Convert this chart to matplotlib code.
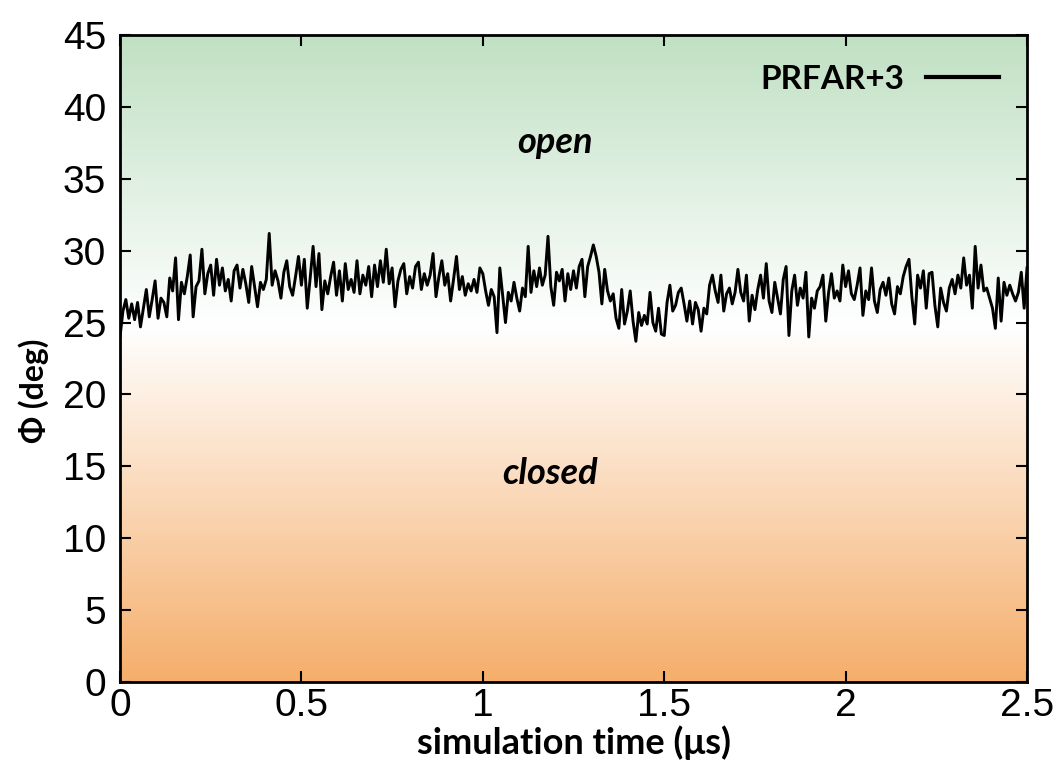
import numpy as np
import matplotlib
matplotlib.use('Agg')
import matplotlib.pyplot as plt
from matplotlib.colors import LinearSegmentedColormap

# phi angle (deg), one array per 0.5 us window
phi_0_05 = [24.0, 25.8, 26.6, 25.3, 26.3, 25.2, 26.4, 24.7, 26.0, 27.3, 25.4, 26.6,
            27.9, 25.3, 26.7, 26.4, 25.4, 28.1, 27.2, 29.5, 25.2, 27.8, 27.0, 28.2,
            29.7, 25.4, 27.5, 27.9, 30.1, 27.0, 28.4, 29.0, 26.9, 29.4, 27.6, 28.8,
            27.2, 28.0, 26.5, 28.6, 29.0, 27.4, 28.7, 27.7, 26.4, 28.9, 27.5, 26.1,
            27.8, 27.3, 28.0, 31.2, 27.6, 28.6, 27.9, 26.7, 28.5, 29.3, 27.5, 26.9,
            28.2, 29.6]
phi_05_10 = [27.6, 29.4, 26.0, 28.1, 30.3, 27.5, 29.8, 25.9, 27.9, 27.0, 28.2, 29.2,
             26.9, 28.6, 26.5, 29.1, 27.3, 28.0, 27.1, 29.3, 27.0, 28.3, 27.6, 28.9,
             26.8, 29.0, 27.5, 29.3, 27.8, 30.1, 27.7, 28.8, 26.1, 27.9, 28.7, 29.1,
             27.0, 28.2, 27.4, 28.9, 29.2, 27.3, 28.4, 27.6, 28.3, 29.8, 26.8, 28.2,
             29.3, 27.6, 28.4, 26.5, 28.0, 29.6, 27.3, 28.2, 26.9, 27.7, 27.2, 28.0,
             27.1, 28.8]
phi_10_15 = [28.4, 27.2, 26.2, 27.3, 26.8, 24.3, 28.8, 26.9, 25.0, 27.1, 26.5, 27.8,
             26.7, 25.8, 27.4, 26.8, 30.3, 27.1, 28.6, 27.5, 28.8, 27.6, 28.3, 31.0,
             27.5, 26.2, 28.5, 27.9, 28.7, 26.5, 28.4, 27.3, 28.6, 27.4, 28.9, 29.4,
             26.8, 28.9, 29.6, 30.4, 29.6, 28.5, 26.3, 28.7, 27.2, 26.5, 27.0, 25.3,
             24.6, 27.3, 24.9, 25.8, 27.2, 25.1, 23.7, 25.7, 24.8, 25.5, 24.9, 27.1,
             25.0, 24.4, 26.0, 24.2]
phi_15_20 = [24.1, 26.4, 27.6, 25.8, 26.2, 27.1, 27.4, 26.3, 25.1, 26.5, 24.9, 26.4,
             25.9, 24.4, 26.0, 25.6, 27.6, 28.3, 27.2, 26.4, 28.3, 25.8, 27.0, 27.4,
             26.3, 27.1, 28.7, 27.1, 26.5, 28.3, 25.1, 26.9, 25.9, 27.3, 28.3, 26.7,
             29.1, 26.5, 25.7, 27.8, 26.7, 25.6, 28.0, 28.9, 24.1, 27.2, 28.3, 26.2,
             27.4, 26.7, 28.5, 24.0, 26.7, 26.0, 27.2, 27.5, 28.3, 25.1, 27.1, 28.4,
             26.7, 27.2, 26.5, 29.0]
phi_20_25 = [27.5, 28.6, 27.0, 26.6, 27.6, 28.8, 25.5, 27.2, 26.6, 28.8, 26.5, 25.7,
             27.3, 27.8, 26.9, 28.1, 26.3, 25.6, 27.5, 27.0, 28.2, 28.9, 29.4, 26.8,
             24.9, 28.3, 27.4, 28.6, 26.0, 28.4, 28.5, 26.2, 24.7, 27.4, 26.4, 25.8,
             27.4, 28.0, 27.0, 28.3, 27.4, 29.5, 27.6, 28.3, 26.0, 30.3, 27.4, 29.0,
             27.2, 27.4, 26.7, 26.0, 24.6, 28.1, 25.1, 27.8, 26.9, 27.6, 27.0, 26.5,
             27.1, 28.5, 26.0, 28.8]
windows = [(0.0, 0.5), (0.5, 1.0), (1.0, 1.5), (1.5, 2.0), (2.0, 2.5)]

xticks = [0, 0.5, 1, 1.5, 2, 2.5]
xtick_labels = ['0', '0.5', '1', '1.5', '2', '2.5']
yticks = [0, 5, 10, 15, 20, 25, 30, 35, 40, 45]

segments = [phi_0_05, phi_05_10, phi_10_15, phi_15_20, phi_20_25]
time = np.concatenate([np.linspace(a, b, len(s), endpoint=(b == 2.5))
                       for (a, b), s in zip(windows, segments)])
phi = np.concatenate(segments)

LABEL_FONT = ['Lato', 'DejaVu Sans']
TICK_FONT = 'Liberation Sans'

fig = plt.figure(figsize=(10.6, 7.73), dpi=100)
ax = fig.add_axes([0.1132, 0.1177, 0.8557, 0.837])

# background: green (open) -> white -> orange (closed)
bg = LinearSegmentedColormap.from_list(
    'openclosed', [(0.0, '#f5ae6b'), (0.55, '#ffffff'), (1.0, '#c0e0c3')])
grad = np.linspace(0, 1, 256).reshape(-1, 1)
ax.imshow(grad, cmap=bg, origin='lower', aspect='auto',
          extent=[0, 2.5, 0, 45], zorder=0, interpolation='bicubic')

ax.plot(time, phi, color='black', lw=2.1, label='PRFAR+3', zorder=2)

ax.set_xlim(0, 2.5)
ax.set_ylim(0, 45)
ax.set_xticks(xticks)
ax.set_xticklabels(xtick_labels)
ax.set_yticks(yticks)
ax.tick_params(direction='in', top=True, right=True, length=8, width=1.5,
               labelsize=28)
ax.tick_params(axis='x', pad=4)
ax.tick_params(axis='y', pad=10)
for lab in ax.get_xticklabels() + ax.get_yticklabels():
    lab.set_family(TICK_FONT)
for sp in ax.spines.values():
    sp.set_linewidth(2)

ax.set_xlabel('simulation time (μs)', family=LABEL_FONT, fontweight='bold',
              fontsize=26, labelpad=1)
ax.set_ylabel('Φ (deg)', family=LABEL_FONT, fontweight='bold', fontsize=23)
ax.yaxis.set_label_coords(-0.078, 0.45)

ax.text(1.2, 37.5, 'open', family=LABEL_FONT, fontweight='bold', style='italic',
        fontsize=26, ha='center', va='center')
ax.text(1.186, 14.5, 'closed', family=LABEL_FONT, fontweight='bold', style='italic',
        fontsize=26, ha='center', va='center')

leg = ax.legend(loc='upper right', frameon=False, markerfirst=False,
                handlelength=2.2, handletextpad=0.65,
                prop={'family': LABEL_FONT, 'weight': 'bold', 'size': 24},
                bbox_to_anchor=(0.995, 0.99), borderaxespad=0.3)
for h in leg.get_lines():
    h.set_linewidth(3)

fig.savefig('out.png', dpi=100)
